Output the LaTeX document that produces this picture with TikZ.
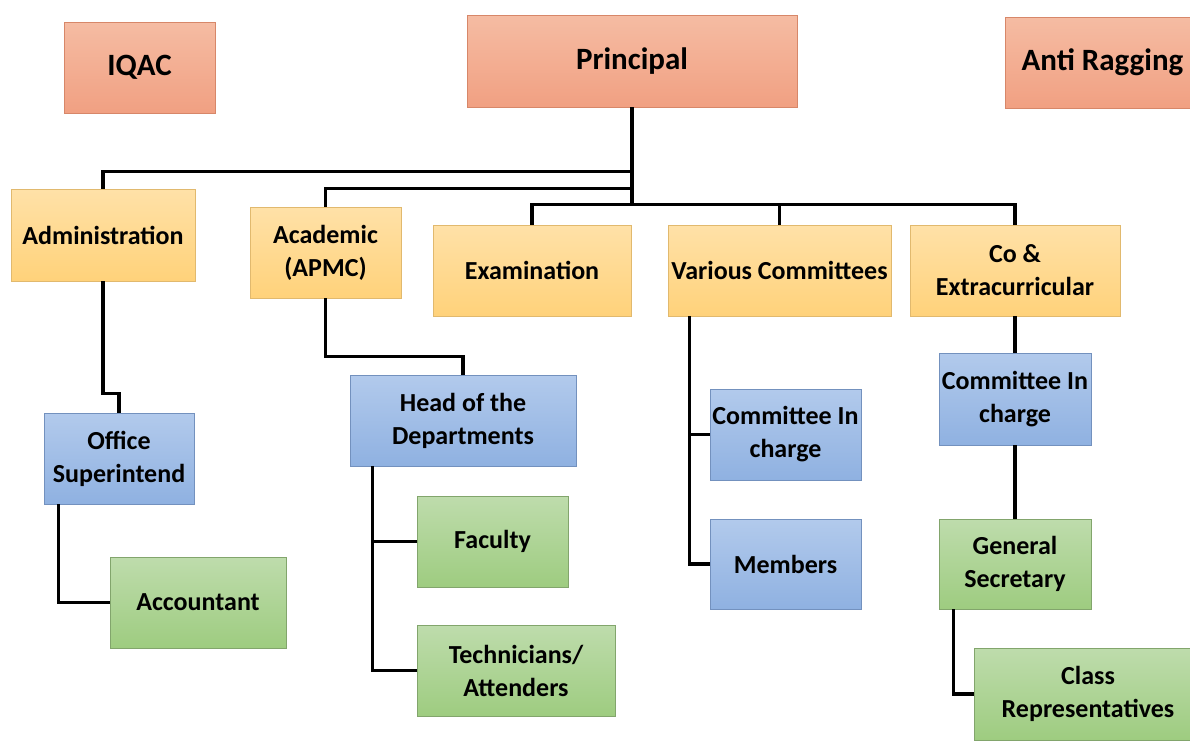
\documentclass[tikz,border=0pt]{standalone}
\usepackage{fontspec}
\setmainfont{Carlito}
\usetikzlibrary{calc}
\definecolor{salT}{RGB}{245,188,163}
\definecolor{salB}{RGB}{241,160,130}
\definecolor{salD}{RGB}{215,135,105}
\definecolor{yelT}{RGB}{255,225,168}
\definecolor{yelB}{RGB}{255,210,122}
\definecolor{yelD}{RGB}{225,185,110}
\definecolor{bluT}{RGB}{178,202,236}
\definecolor{bluB}{RGB}{143,177,225}
\definecolor{bluD}{RGB}{115,145,190}
\definecolor{grnT}{RGB}{190,220,172}
\definecolor{grnB}{RGB}{158,204,128}
\definecolor{grnD}{RGB}{130,165,108}
\tikzset{
  box/.style={rectangle, inner sep=0pt, align=center, line width=0.8pt,
    font=\bfseries\fontsize{26}{33}\selectfont},
  topbox/.style={box, top color=salT, bottom color=salB, draw=salD,
    font=\bfseries\fontsize{31}{37}\selectfont},
  yelbox/.style={box, top color=yelT, bottom color=yelB, draw=yelD},
  blubox/.style={box, top color=bluT, bottom color=bluB, draw=bluD},
  grnbox/.style={box, top color=grnT, bottom color=grnB, draw=grnD},
  conn/.style={draw=black, line width=3.4pt}
}
\begin{document}
\begin{tikzpicture}[x=1pt, y=-1pt]
\useasboundingbox (0,0) rectangle (1190,740);
\fill[white] (0,0) rectangle (1190,740);
% top row
\node[topbox, minimum width=151pt, minimum height=91pt] (iqac) at (139.5,67.5) {IQAC};
\node[topbox, minimum width=330pt, minimum height=92pt] (principal) at (632,61) {Principal};
\node[topbox, minimum width=195pt, minimum height=91pt] (anti) at (1102.5,62.5) {Anti Ragging};
% second row
\node[yelbox, minimum width=184pt, minimum height=92pt] (admin) at (103,235) {Administration};
\node[yelbox, minimum width=151pt, minimum height=91pt] (acad) at (325.5,252.5) {Academic\\(APMC)};
\node[yelbox, minimum width=198pt, minimum height=91pt] (exam) at (532,270.5) {Examination};
\node[yelbox, minimum width=223pt, minimum height=91pt] (various) at (779.5,270.5) {Various Committees};
\node[yelbox, minimum width=210pt, minimum height=91pt] (co) at (1015,270.5) {Co \&\\Extracurricular};
% third level
\node[blubox, minimum width=150pt, minimum height=91pt] (office) at (119,458.5) {Office\\Superintend};
\node[grnbox, minimum width=176pt, minimum height=91pt] (acct) at (198,602.5) {Accountant};
\node[blubox, minimum width=226pt, minimum height=91pt] (head) at (463,420.5) {Head of the\\Departments};
\node[grnbox, minimum width=151pt, minimum height=91pt] (faculty) at (492.5,541.5) {Faculty};
\node[grnbox, minimum width=198pt, minimum height=91pt] (tech) at (516,670.5) {Technicians/\\Attenders};
\node[blubox, minimum width=151pt, minimum height=91pt] (cic1) at (785.5,434.5) {Committee In\\charge};
\node[blubox, minimum width=151pt, minimum height=90pt] (members) at (785.5,564) {Members};
\node[blubox, minimum width=152pt, minimum height=92pt] (cic2) at (1015,399) {Committee In\\charge};
\node[grnbox, minimum width=152pt, minimum height=90pt] (gensec) at (1015,564) {General\\Secretary};
\node[grnbox, minimum width=228pt, minimum height=92pt] (classrep) at (1088,694) {Class\\Representatives};
% connectors from principal
\coordinate (busA) at ($(principal.south)+(0,64)$);
\coordinate (busB) at ($(principal.south)+(0,81)$);
\coordinate (busC) at ($(principal.south)+(0,97)$);
\draw[conn] (principal.south) -- (busC);
\draw[conn] (admin.north) |- (busA);
\draw[conn] (acad.north) |- (busB);
\draw[conn] (exam.north) |- (busC) -| (co.north);
\draw[conn] (various.north) -- (various.north |- busC);
% administration branch
\draw[conn] (admin.south) -- ++(0,112) -| (office.north);
\draw[conn] ([xshift=15pt]office.south west) |- (acct.west);
% academic branch
\draw[conn] (acad.south) -- ++(0,58) -| (head.north);
\draw[conn] ([xshift=23pt]head.south west) |- (faculty.west);
\draw[conn] ([xshift=23pt]head.south west) |- (tech.west);
% various committees branch
\draw[conn] ([xshift=22pt]various.south west) |- (cic1.west);
\draw[conn] ([xshift=22pt]various.south west) |- (members.west);
% co-curricular branch
\draw[conn] (co.south) -- (cic2.north);
\draw[conn] (cic2.south) -- (gensec.north);
\draw[conn] ([xshift=15pt]gensec.south west) |- (classrep.west);
\end{tikzpicture}
\end{document}
